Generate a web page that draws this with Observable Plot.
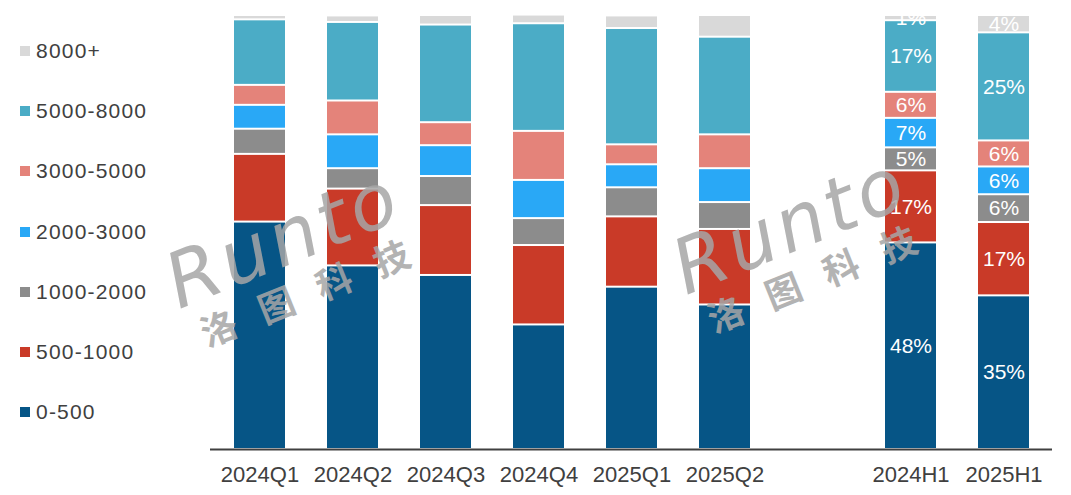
<!DOCTYPE html>
<html>
<head>
<meta charset="utf-8">
<script src="https://cdn.jsdelivr.net/npm/d3@7"></script>
<script src="https://cdn.jsdelivr.net/npm/@observablehq/plot@0.6"></script>
<style>
  html, body { margin: 0; padding: 0; background: #fff; }
  #wrap { position: relative; width: 1071px; height: 495px; overflow: hidden; font-family: "Liberation Sans", Arial, sans-serif; }
  #chart { position: absolute; left: 0; top: 0; }
  .leg { position: absolute; left: 20px; display: flex; align-items: center; font-size: 21px; color: #404040; letter-spacing: 1.2px; height: 30px; }
  .leg span.sw { display: inline-block; width: 10px; height: 10px; margin-right: 6px; }
  .wm { position: absolute; color: #a6a6a6; opacity: 0.85; pointer-events: none; white-space: nowrap; transform-origin: left top; }
  .wm .en { font-family: "DejaVu Sans", sans-serif; font-style: italic; font-size: 76px; letter-spacing: 4px; line-height: 1; font-weight: normal; }
  .wm .zh { font-family: "Noto Sans CJK SC", sans-serif; font-size: 36px; font-weight: bold; letter-spacing: 26px; line-height: 1; margin-left: 12px; }
</style>
</head>
<body>
<div id="wrap">
  <div id="chart"></div>
  <div id="legend"></div>
</div>
<script>
// ---- data (percent share by price band) ----
const periods = ["2024Q1", "2024Q2", "2024Q3", "2024Q4", "2025Q1", "2025Q2", "2024H1", "2025H1"];
const categories = ["0-500", "500-1000", "1000-2000", "2000-3000", "3000-5000", "5000-8000", "8000+"];
const colors = ["#065586", "#C93A28", "#8C8C8C", "#29A8F6", "#E4837A", "#4BACC6", "#D9D9D9"];

const band0_500     = [52.4, 42.3, 40.1, 28.7, 37.4, 33.3, 47.6, 35.4];
const band500_1000  = [15.6, 17.7, 16.1, 18.3, 16.2, 17.4, 16.6, 16.9];
const band1000_2000 = [5.8, 4.7, 6.7, 6.2, 6.7, 6.2, 5.3, 6.4];
const band2000_3000 = [5.5, 7.8, 7.1, 8.8, 5.3, 7.8, 6.8, 6.4];
const band3000_5000 = [4.6, 7.8, 5.3, 11.3, 4.6, 7.8, 6.0, 6.0];
const band5000_8000 = [15.1, 18.1, 22.5, 24.8, 26.8, 22.5, 16.5, 24.9];
const band8000plus  = [1.0, 1.5, 2.2, 2.0, 2.9, 5.0, 1.2, 4.0];

const labeledPeriods = ["2024H1", "2025H1"];

// ---- build long table ----
const series = [band0_500, band500_1000, band1000_2000, band2000_3000, band3000_5000, band5000_8000, band8000plus];
const rows = [];
periods.forEach((p, i) => {
  categories.forEach((c, j) => rows.push({period: p, band: c, value: series[j][i]}));
});

const GAP = "__gap__";
const xDomain = [...periods.slice(0, 6), GAP, ...periods.slice(6)];

const chart = Plot.plot({
  width: 1071,
  height: 495,
  marginLeft: 210,
  marginRight: 19,
  marginTop: 15,
  marginBottom: 46,
  style: {fontFamily: "'Liberation Sans', Arial, sans-serif", background: "transparent"},
  x: {domain: xDomain, paddingInner: 0.455, paddingOuter: 0.2275, label: null},
  y: {domain: [0, 100], axis: null},
  color: {domain: categories, range: colors},
  marks: [
    Plot.barY(rows, {
      x: "period", y: "value", fill: "band", z: "band",
      order: categories, insetTop: 1, insetBottom: 1
    }),
    Plot.text(rows.filter(d => labeledPeriods.includes(d.period)), Plot.stackY({
      x: "period", y: "value", z: "band", order: categories,
      text: d => Math.round(d.value) + "%",
      fill: "white", fontSize: 21,
      fontFamily: "'Liberation Sans Narrow', 'Liberation Sans', Arial, sans-serif",
      clip: true
    })),
    Plot.ruleY([0], {stroke: "#404040", strokeWidth: 2}),
    Plot.axisX({
      tickSize: 0, tickPadding: 17, fontSize: 22, fill: "#404040",
      tickFormat: d => d === GAP ? "" : d, label: null
    })
  ]
});
document.getElementById("chart").appendChild(chart);

// ---- legend (top: 8000+ ... bottom: 0-500) ----
const legend = document.getElementById("legend");
categories.slice().reverse().forEach((c, i) => {
  const color = colors[categories.indexOf(c)];
  const div = document.createElement("div");
  div.className = "leg";
  div.style.top = (36 + i * 60.2) + "px";
  div.innerHTML = `<span class="sw" style="background:${color}"></span><span>${c}</span>`;
  legend.appendChild(div);
});

// ---- watermark ----
const wrap = document.getElementById("wrap");
[[155, 250], [662, 236]].forEach(([lx, ty]) => {
  const w = document.createElement("div");
  w.className = "wm";
  w.style.left = lx + "px";
  w.style.top = ty + "px";
  w.style.transform = "rotate(-22deg)";
  w.innerHTML = `<div class="en">Runto</div><div class="zh">洛图科技</div>`;
  wrap.appendChild(w);
});
</script>
</body>
</html>
